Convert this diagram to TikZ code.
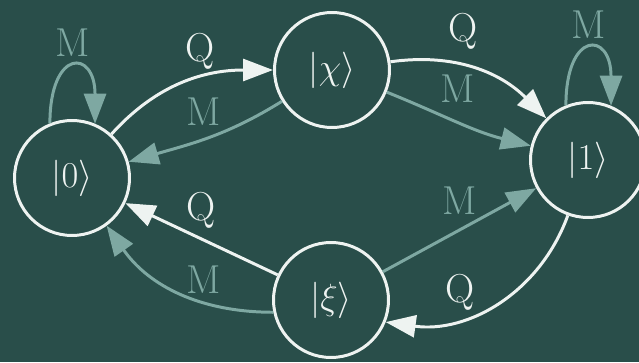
\documentclass[tikz,border=0pt]{standalone}
\definecolor{boardTeal}{RGB}{41,78,74}
\definecolor{chalkWhite}{RGB}{238,243,241}
\definecolor{chalkTeal}{RGB}{126,168,162}
\usepackage{amsmath}
\usepackage{tikz}
\usetikzlibrary{arrows.meta}

\begin{document}
\begin{tikzpicture}[x=0.02cm, y=0.02cm,
    state/.style={circle, draw=chalkWhite, line width=1.7pt, minimum size=2.3cm, inner sep=0pt,
      text=chalkWhite, font=\fontsize{20}{24}\selectfont},
    qedge/.style={-{Triangle[length=0.6cm, width=0.44cm]}, chalkWhite, line width=1.7pt},
    medge/.style={-{Triangle[length=0.6cm, width=0.44cm]}, chalkTeal, line width=1.7pt},
    qlabel/.style={text=chalkWhite, inner sep=0pt, font=\fontsize{23}{26}\selectfont},
    mlabel/.style={text=chalkTeal, inner sep=0pt, font=\fontsize{23}{26}\selectfont}]
  \fill[boardTeal] (0,0) rectangle (639,362);
  \useasboundingbox (0,0) rectangle (639,362);
  \clip (0,0) rectangle (639,362);
  % States
  \node[state] (zero) at (72,184) {$|0\rangle$};
  \node[state] (chi)  at (332,292) {$|\chi\rangle$};
  \node[state] (one)  at (588,202) {$|1\rangle$};
  \node[state] (xi)   at (331,62) {$|\xi\rangle$};
  % Q transitions
  \draw[qedge] (zero) to[out=48, in=180] node[pos=0.6, above=4pt, qlabel] {Q} (chi);
  \draw[qedge] (chi) to[out=8, in=135] node[pos=0.42, above=8pt, qlabel] {Q} (one);
  \draw[qedge] (one.250) to[out=250, in=-8] node[pos=0.68, above=3pt, qlabel] {Q} (xi.-22);
  \draw[qedge] (xi) -- node[pos=0.5, above=5pt, qlabel] {Q} (zero);
  % M transitions
  \draw[medge] (chi) to[out=212, in=16] node[pos=0.53, above=7pt, mlabel] {M} (zero);
  \draw[medge] (chi) to[out=-22, in=166] node[pos=0.5, above=10pt, mlabel] {M} (one);
  \draw[medge] (xi) -- node[pos=0.5, above=8pt, mlabel] {M} (one);
  \draw[medge] (xi.192) to[out=180, in=-55] node[pos=0.35, above=4pt, mlabel] {M} (zero.-54);
  % Self loops
  \draw[medge] (zero.112) .. controls +(0,75) and +(0,75) .. node[pos=0.5, above=5pt, mlabel] {M} (zero.67);
  \draw[medge] (one.112) .. controls +(0,75) and +(0,75) .. node[pos=0.5, above=5pt, mlabel] {M} (one.67);
\end{tikzpicture}
\end{document}
